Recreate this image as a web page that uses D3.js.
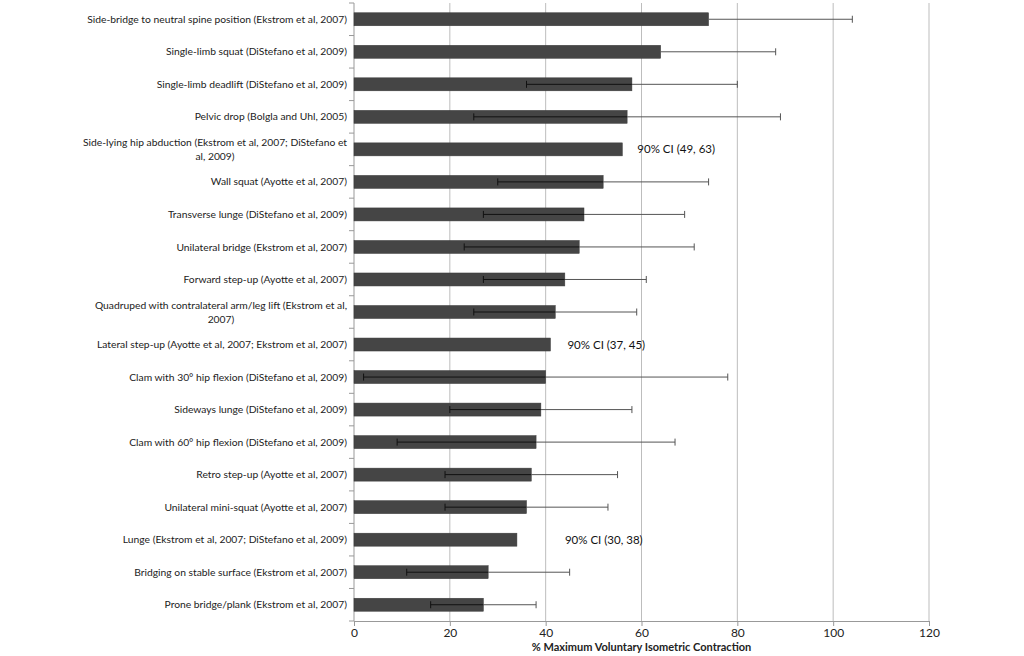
<!DOCTYPE html>
<html>
<head>
<meta charset="utf-8">
<script src="https://cdn.jsdelivr.net/npm/d3@7"></script>
<style>
  body { margin: 0; background: #fff; }
  svg { display: block; }
</style>
</head>
<body>
<svg id="chart" width="1024" height="656"></svg>
<script>
// exercises, top to bottom
const exercises = [
  'Side-bridge to neutral spine position (Ekstrom et al, 2007)',
  'Single-limb squat (DiStefano et al, 2009)',
  'Single-limb deadlift (DiStefano et al, 2009)',
  'Pelvic drop (Bolgla and Uhl, 2005)',
  'Side-lying hip abduction (Ekstrom et al, 2007; DiStefano et|al, 2009)',
  'Wall squat (Ayotte et al, 2007)',
  'Transverse lunge (DiStefano et al, 2009)',
  'Unilateral bridge (Ekstrom et al, 2007)',
  'Forward step-up (Ayotte et al, 2007)',
  'Quadruped with contralateral arm/leg lift (Ekstrom et al,|2007)',
  'Lateral step-up (Ayotte et al, 2007; Ekstrom et al, 2007)',
  'Clam with 30° hip flexion (DiStefano et al, 2009)',
  'Sideways lunge (DiStefano et al, 2009)',
  'Clam with 60° hip flexion (DiStefano et al, 2009)',
  'Retro step-up (Ayotte et al, 2007)',
  'Unilateral mini-squat (Ayotte et al, 2007)',
  'Lunge (Ekstrom et al, 2007; DiStefano et al, 2009)',
  'Bridging on stable surface (Ekstrom et al, 2007)',
  'Prone bridge/plank (Ekstrom et al, 2007)'
];
const mvic  = [74, 64, 58, 57, 56, 52, 48, 47, 44, 42, 41, 40, 39, 38, 37, 36, 34, 28, 27];
const lower = [null, null, 36, 25, null, 30, 27, 23, 27, 25, null, 2, 20, 9, 19, 19, null, 11, 16];
const upper = [104, 88, 80, 89, null, 74, 69, 71, 61, 59, null, 78, 58, 67, 55, 53, null, 45, 38];
const ciNotes = [
  { row: 4, text: '90% CI (49, 63)', dx: 15 },
  { row: 10, text: '90% CI (37, 45)', dx: 17 },
  { row: 16, text: '90% CI (30, 38)', dx: 48 }
];
const xTicks = [0, 20, 40, 60, 80, 100, 120];

const svg = d3.select('#chart');
const margin = { left: 354, right: 95, top: 3, bottom: 35 };
const width = 1024 - margin.left - margin.right;
const height = 656 - margin.top - margin.bottom;
const font = 'Lato, "Open Sans", sans-serif';
const labelSize = 10.3;

const g = svg.append('g').attr('transform', `translate(${margin.left},${margin.top})`);

const x = d3.scaleLinear().domain([0, 120]).range([0, width]);
const y = d3.scaleBand().domain(d3.range(exercises.length)).range([0, height]);
const barH = 13;

// vertical gridlines
g.selectAll('line.grid')
  .data(xTicks.slice(1))
  .enter()
  .append('line')
  .attr('class', 'grid')
  .attr('x1', d => x(d)).attr('x2', d => x(d))
  .attr('y1', 0).attr('y2', height)
  .attr('stroke', '#bdbdbd').attr('stroke-width', 1);

// x axis
const xAxis = g.append('g')
  .attr('transform', `translate(0,${height})`)
  .call(d3.axisBottom(x).tickValues(xTicks).tickSize(5).tickPadding(2));
xAxis.select('.domain').attr('stroke', '#999');
xAxis.selectAll('.tick line').attr('stroke', '#999');
xAxis.selectAll('text').attr('font-family', font).attr('font-size', 12).attr('fill', '#222');

// y axis line + ticks at band boundaries
g.append('line')
  .attr('x1', 0).attr('x2', 0).attr('y1', 0).attr('y2', height)
  .attr('stroke', '#999');
g.selectAll('line.ytick')
  .data(d3.range(exercises.length + 1))
  .enter()
  .append('line')
  .attr('class', 'ytick')
  .attr('x1', -5).attr('x2', 0)
  .attr('y1', i => i * y.step()).attr('y2', i => i * y.step())
  .attr('stroke', '#999');

// bars
g.selectAll('rect.bar')
  .data(mvic)
  .enter()
  .append('rect')
  .attr('class', 'bar')
  .attr('x', 0)
  .attr('y', (d, i) => y(i) + y.bandwidth() / 2 - barH / 2)
  .attr('width', d => x(d))
  .attr('height', barH)
  .attr('fill', '#454545')
  .attr('stroke', '#3a3a3a').attr('stroke-width', 0.5);

// error bars
const errs = mvic.map((d, i) => ({ i, m: d, lo: lower[i], hi: upper[i] })).filter(e => e.hi !== null);
const eg = g.selectAll('g.err').data(errs).enter().append('g')
  .attr('transform', e => `translate(0,${y(e.i) + y.bandwidth() / 2})`);
// part inside the bar
eg.filter(e => e.lo !== null).append('line')
  .attr('x1', e => x(e.lo)).attr('x2', e => x(e.m))
  .attr('stroke', '#111').attr('stroke-width', 1);
eg.filter(e => e.lo !== null).append('line')
  .attr('x1', e => x(e.lo)).attr('x2', e => x(e.lo))
  .attr('y1', -3.5).attr('y2', 3.5)
  .attr('stroke', '#111').attr('stroke-width', 1);
// part outside the bar
eg.append('line')
  .attr('x1', e => x(e.m)).attr('x2', e => x(e.hi))
  .attr('stroke', '#555').attr('stroke-width', 1);
eg.append('line')
  .attr('x1', e => x(e.hi)).attr('x2', e => x(e.hi))
  .attr('y1', -3.5).attr('y2', 3.5)
  .attr('stroke', '#555').attr('stroke-width', 1);

// category labels
exercises.forEach((name, i) => {
  const lines = name.split('|');
  const cy = y(i) + y.bandwidth() / 2;
  if (lines.length === 1) {
    g.append('text')
      .attr('x', -7).attr('y', cy).attr('dy', '0.35em')
      .attr('text-anchor', 'end')
      .attr('font-family', font).attr('font-size', labelSize).attr('fill', '#222')
      .text(name);
  } else {
    const t1 = g.append('text')
      .attr('x', -7).attr('y', cy - 7).attr('dy', '0.35em')
      .attr('text-anchor', 'end')
      .attr('font-family', font).attr('font-size', labelSize).attr('fill', '#222')
      .text(lines[0]);
    const w = t1.node().getComputedTextLength();
    g.append('text')
      .attr('x', -7 - w / 2).attr('y', cy + 7).attr('dy', '0.35em')
      .attr('text-anchor', 'middle')
      .attr('font-family', font).attr('font-size', labelSize).attr('fill', '#222')
      .text(lines[1]);
  }
});

// CI notes
g.selectAll('text.ci')
  .data(ciNotes)
  .enter()
  .append('text')
  .attr('class', 'ci')
  .attr('x', d => x(mvic[d.row]) + d.dx)
  .attr('y', d => y(d.row) + y.bandwidth() / 2)
  .attr('dy', '0.35em')
  .attr('font-family', font).attr('font-size', 11.5).attr('fill', '#111')
  .text(d => d.text);

// axis title
g.append('text')
  .attr('x', width / 2).attr('y', height + 30)
  .attr('text-anchor', 'middle')
  .attr('font-family', font).attr('font-size', 11).attr('font-weight', 'bold').attr('fill', '#222')
  .text('% Maximum Voluntary Isometric Contraction');
</script>
</body>
</html>
